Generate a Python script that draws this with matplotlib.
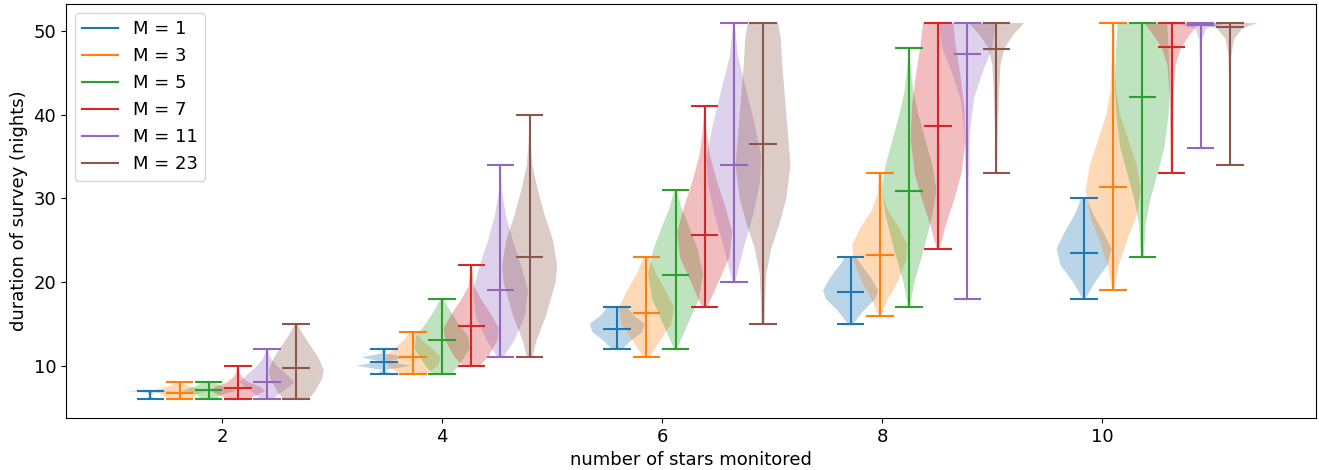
import numpy as np
import matplotlib
matplotlib.use("Agg")
import matplotlib.pyplot as plt
from matplotlib.lines import Line2D

n_stars = [2, 4, 6, 8, 10]
m_values = [1, 3, 5, 7, 11, 23]

# survey length (nights) per M (rows) and number of stars (columns)
night_min = [
    [6, 9, 12, 15, 18],
    [6, 9, 11, 16, 19],
    [6, 9, 12, 17, 23],
    [6, 10, 17, 24, 33],
    [6, 11, 20, 18, 36],
    [6, 11, 15, 33, 34],
]
night_max = [
    [7, 12, 17, 23, 30],
    [8, 14, 23, 33, 51],
    [8, 18, 31, 48, 51],
    [10, 22, 41, 51, 51],
    [12, 34, 51, 51, 51],
    [15, 40, 51, 51, 51],
]
night_mean = [
    [6.95, 10.4, 14.4, 18.8, 23.5],
    [6.8, 11.1, 16.35, 23.2, 31.4],
    [7.1, 13.05, 20.9, 30.9, 42.1],
    [7.35, 14.8, 25.6, 38.7, 48.05],
    [8.1, 19.1, 34.0, 47.3, 50.7],
    [9.7, 23.0, 36.5, 47.9, 50.5],
]

# density outlines (nights, relative width) for each M
shape_n2 = [
    [(6, 0.15), (6.4, 0.03), (6.8, 0.1), (7, 1.0)],
    [(6, 0.4), (6.5, 0.6), (7, 1.0), (7.5, 0.4), (8, 0.1)],
    [(6, 0.3), (6.5, 0.4), (7, 1.0), (7.5, 0.5), (8, 0.2)],
    [(6, 0.4), (6.5, 0.7), (7, 1.0), (7.5, 0.8), (8, 0.4), (8.5, 0.2), (9, 0.08), (10, 0.02)],
    [(6, 0.2), (7, 0.6), (8, 1.0), (9, 0.7), (10, 0.35), (11, 0.12), (12, 0.03)],
    [(6, 0.45), (7, 0.7), (8.5, 0.95), (9.5, 1.0), (11, 0.8), (12.5, 0.5), (14, 0.2), (15, 0.05)],
]
shape_n4 = [
    [(9, 0.25), (9.5, 0.05), (10, 1.0), (10.5, 0.1), (11, 0.8), (11.5, 0.05), (12, 0.1)],
    [(9, 0.5), (10, 0.9), (11, 1.0), (12, 0.7), (13, 0.35), (14, 0.1)],
    [(9, 0.35), (10, 0.6), (12, 1.0), (13.5, 0.95), (15, 0.6), (16.5, 0.3), (18, 0.05)],
    [(10, 0.3), (11, 0.6), (13, 0.95), (14.5, 1.0), (16, 0.75), (18, 0.35), (19.5, 0.1), (22, 0.03)],
    [(11, 0.1), (13, 0.5), (16, 0.9), (19, 1.0), (22, 0.75), (25, 0.45), (28, 0.2), (31, 0.05), (34, 0.02)],
    [(11, 0.1), (13, 0.25), (16, 0.6), (20, 0.95), (22, 1.0), (25, 0.85), (28, 0.55), (31, 0.3),
     (34, 0.1), (37, 0.03), (40, 0.01)],
]
shape_n6 = [
    [(12, 0.2), (13, 0.5), (14, 0.9), (15, 1.0), (16, 0.6), (17, 0.35)],
    [(11, 0.1), (13, 0.5), (15, 0.9), (17, 1.0), (19, 0.7), (21, 0.35), (23, 0.1)],
    [(12, 0.05), (15, 0.45), (18, 0.85), (21, 1.0), (24, 0.8), (27, 0.45), (29, 0.2), (31, 0.05)],
    [(17, 0.1), (20, 0.5), (23, 0.9), (26, 1.0), (29, 0.75), (32, 0.45), (35, 0.2), (38, 0.07), (41, 0.02)],
    [(20, 0.05), (24, 0.35), (28, 0.7), (32, 0.95), (35, 1.0), (39, 0.75), (43, 0.45), (47, 0.15), (51, 0.03)],
    [(15, 0.05), (18, 0.08), (21, 0.12), (24, 0.3), (27, 0.6), (30, 0.85), (34, 1.0), (38, 0.9),
     (42, 0.8), (46, 0.7), (49, 0.65), (51, 0.55)],
]
shape_n8 = [
    [(15, 0.1), (16.5, 0.45), (18, 0.9), (19, 1.0), (20.5, 0.75), (22, 0.4), (23, 0.2)],
    [(16, 0.05), (18, 0.3), (20, 0.65), (22.5, 0.95), (24.5, 1.0), (26.5, 0.7), (28.5, 0.3), (30.5, 0.08), (33, 0.03)],
    [(17, 0.03), (20, 0.2), (24, 0.55), (28, 0.85), (31, 1.0), (34, 0.85), (37, 0.6), (40, 0.35),
     (43, 0.15), (46, 0.05), (48, 0.02)],
    [(24, 0.05), (27, 0.3), (30, 0.6), (33, 0.85), (37, 1.0), (41, 0.95), (45, 0.8), (48, 0.65), (51, 0.55)],
    [(18, 0.02), (25, 0.03), (32, 0.05), (38, 0.1), (42, 0.25), (45, 0.55), (48, 0.9), (50, 1.0), (51, 1.0)],
    [(33, 0.03), (38, 0.05), (43, 0.1), (46, 0.15), (48, 0.3), (49.5, 0.6), (51, 1.0)],
]
shape_n10 = [
    [(18, 0.05), (20, 0.4), (22, 0.85), (24, 1.0), (26, 0.7), (28, 0.35), (30, 0.1)],
    [(19, 0.03), (22, 0.2), (25, 0.5), (28, 0.85), (31, 1.0), (34, 0.85), (37, 0.55), (40, 0.25),
     (43, 0.1), (47, 0.05), (51, 0.04)],
    [(23, 0.05), (27, 0.12), (30, 0.3), (33, 0.55), (36, 0.8), (40, 0.95), (44, 1.0), (48, 0.95), (51, 0.9)],
    [(33, 0.03), (38, 0.05), (43, 0.08), (46, 0.15), (48, 0.35), (49.5, 0.65), (51, 1.0)],
    [(36, 0.01), (45, 0.02), (49, 0.05), (50.3, 0.2), (51, 1.0)],
    [(34, 0.01), (42, 0.02), (47, 0.05), (49, 0.15), (50.3, 0.45), (51, 1.0)],
]
shapes = [shape_n2, shape_n4, shape_n6, shape_n8, shape_n10]

colors = plt.rcParams["axes.prop_cycle"].by_key()["color"]

fig, ax = plt.subplots(figsize=(13.19, 4.70), dpi=100)
fig.subplots_adjust(left=0.050, right=0.9977, top=0.9915, bottom=0.1106)

step = 0.265
handles = []
for j, m in enumerate(m_values):
    stats = []
    for i, n in enumerate(n_stars):
        knots = np.array(shapes[i][j], dtype=float)
        stats.append({
            "coords": knots[:, 0],
            "vals": knots[:, 1],
            "mean": night_mean[j][i],
            "median": night_mean[j][i],
            "min": night_min[j][i],
            "max": night_max[j][i],
        })
    pos = [2.01 + (n - 2) * 1.0606 + (j - 2.5) * step for n in n_stars]
    parts = ax.violin(stats, positions=pos, widths=0.5, showmeans=True, showextrema=True)
    c = colors[j]
    for body in parts["bodies"]:
        body.set_facecolor(c)
        body.set_edgecolor("none")
        body.set_alpha(0.3)
    for key in ("cmeans", "cmins", "cmaxes", "cbars"):
        parts[key].set_color(c)
        parts[key].set_linewidth(1.5)
    handles.append(Line2D([0], [0], color=c, lw=1.5, label=f"M = {m}"))

ax.set_xlim(0.58, 11.94)
ax.set_ylim(3.75, 53.25)
ax.set_xticks(n_stars)
ax.set_yticks([10, 20, 30, 40, 50])
ax.tick_params(labelsize=13)
ax.set_xlabel("number of stars monitored", fontsize=13)
ax.set_ylabel("duration of survey (nights)", fontsize=13)
ax.legend(handles=handles, loc="upper left", fontsize=13)

fig.savefig("out.png", dpi=100)
